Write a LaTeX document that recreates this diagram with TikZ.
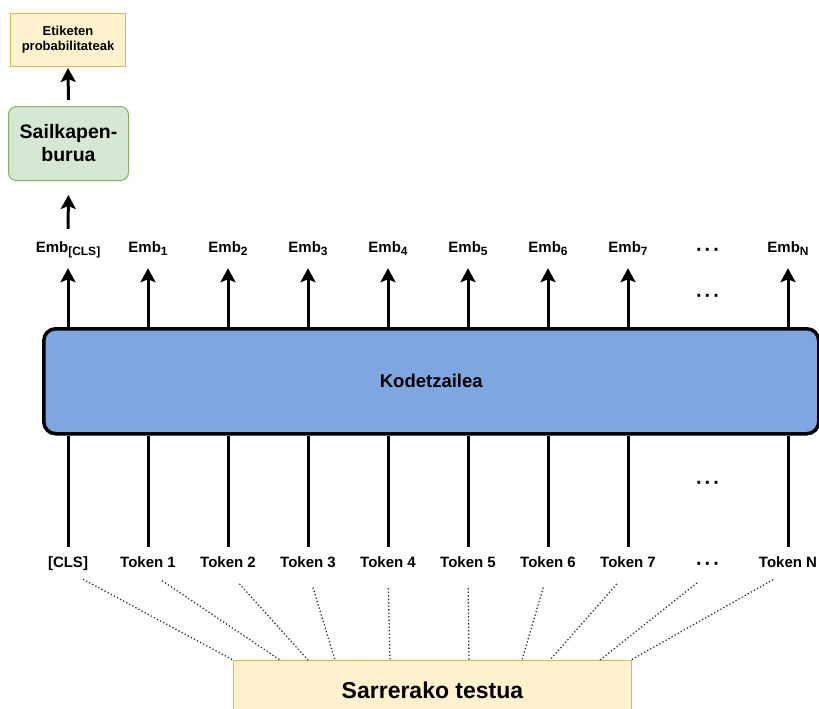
\documentclass[tikz,border=0pt]{standalone}
\usepackage{fontspec}
\setmainfont{Liberation Sans}
\usetikzlibrary{arrows.meta,calc}
\definecolor{yfill}{HTML}{FFF2CC}
\definecolor{ystroke}{HTML}{D6B656}
\definecolor{gfill}{HTML}{D5E8D4}
\definecolor{gstroke}{HTML}{82B366}
\definecolor{bfill}{HTML}{7EA6E0}
\newcommand{\mysub}[1]{\raisebox{-3.5pt}{\fontsize{12}{14}\selectfont #1}}
\newcommand{\mydots}{{\fontsize{20}{20}\selectfont ·\hspace{2pt}·\hspace{2pt}·}}
\begin{document}
\begin{tikzpicture}[x=1pt,y=-1pt,
  lbl/.style={font=\fontsize{15}{18}\selectfont\bfseries, inner sep=0pt, text height=11pt, text depth=4pt, anchor=base},
  arr/.style={line width=3pt, -{Stealth[length=14pt,width=15pt,inset=3pt]}},
  ln/.style={line width=3pt},
  dotln/.style={line width=1.3pt, dash pattern=on 1.3pt off 2.2pt, black!80}]
\useasboundingbox (0,0) rectangle (819,709);
% boxes
\node[draw=ystroke, fill=yfill, line width=1pt, anchor=north west, inner sep=0pt,
  minimum width=115pt, minimum height=53pt, align=center,
  font=\fontsize{13}{15}\selectfont\bfseries] (etik) at (10,13) {Etiketen\\probabilitateak};
\node[draw=gstroke, fill=gfill, line width=1pt, rounded corners=8pt, anchor=north west, inner sep=0pt,
  minimum width=120pt, minimum height=74pt, align=center,
  font=\fontsize{19.5}{23}\selectfont\bfseries] (sail) at (8,106) {Sailkapen-\\burua};
\node[draw=black, fill=bfill, line width=3.5pt, rounded corners=12pt, anchor=north west, inner sep=0pt,
  minimum width=775pt, minimum height=105pt,
  font=\fontsize{18.5}{22}\selectfont\bfseries] (enc) at (42,327) {Kodetzailea};
\node[draw=ystroke, fill=yfill, line width=1pt, anchor=north west, inner sep=0pt,
  minimum width=398pt, minimum height=60pt,
  font=\fontsize{23}{27}\selectfont\bfseries] (sar) at (233,660) {Sarrerako testua};
% columns
\foreach \n/\x/\e/\t/\d in {
  c/68/{Emb\mysub{[CLS]}}/{[CLS]}/0,
  1/148/{Emb\mysub{1}}/{Token 1}/47,
  2/228/{Emb\mysub{2}}/{Token 2}/75,
  3/308/{Emb\mysub{3}}/{Token 3}/102,
  4/388/{Emb\mysub{4}}/{Token 4}/157,
  5/468/{Emb\mysub{5}}/{Token 5}/236,
  6/548/{Emb\mysub{6}}/{Token 6}/289,
  7/628/{Emb\mysub{7}}/{Token 7}/317,
  N/788/{Emb\mysub{N}}/{Token N}/398}{
  \node[lbl] (e\n) at (\x,252) {\e};
  \node[lbl] (t\n) at (\x,567) {\t};
  \draw[arr, shorten >=12pt] (enc.north -| e\n) -- (e\n.south);
  \draw[ln, shorten >=9pt] (enc.south -| t\n) -- (t\n.north);
  \draw[dotln, shorten <=17pt] (t\n.south) -- ([xshift=\d pt]sar.north west);
}
% ellipses
\node[lbl] (edots) at (708,256) {\mydots};
\node[lbl, anchor=center] (mdots1) at (708,299) {\mydots};
\node[lbl, anchor=center] (mdots2) at (708,486) {\mydots};
\node[lbl] (tdots) at (708,570) {\mydots};
\draw[dotln, shorten <=14pt] (tdots.south) -- ([xshift=367pt]sar.north west);
% head
\draw[arr, shorten <=12pt, shorten >=14pt] (ec.north) -- (sail.south);
\draw[arr, shorten <=6pt, shorten >=1pt] (sail.north) -- (etik.south);
\end{tikzpicture}
\end{document}
